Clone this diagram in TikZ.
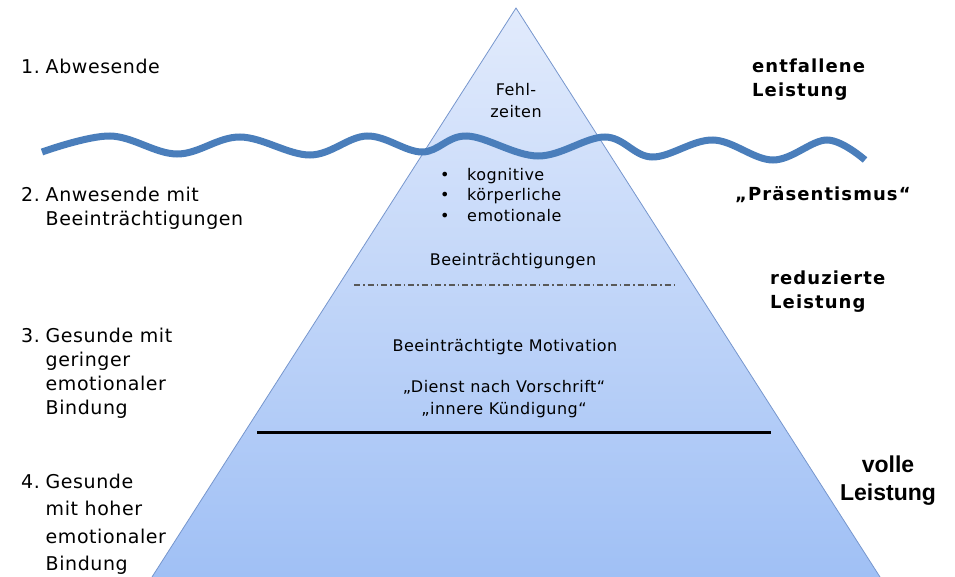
\documentclass[tikz,border=0pt]{standalone}
\usepackage{fontspec}
\setmainfont{DejaVu Sans}[LetterSpace=3,BoldFeatures={LetterSpace=6}]
\newfontfamily\narrowfont{Liberation Sans}
\usetikzlibrary{positioning}

\definecolor{wavecol}{RGB}{74,126,187}
\definecolor{edgecol}{RGB}{118,150,205}
\definecolor{toptint}{RGB}{226,235,252}
\definecolor{bottint}{RGB}{160,192,245}

% number column of the levels
\newcommand{\nr}[1]{\makebox[24.5pt][l]{#1}}

\begin{document}
\begin{tikzpicture}[x=1pt,y=-1pt,inner sep=0pt,
                    level/.style={anchor=west,
                      font=\fontsize{19}{24}\selectfont},
                    result/.style={anchor=west,align=left,
                      font=\fontsize{18}{24}\selectfont\bfseries},
                    inside/.style={align=center,
                      font=\fontsize{16}{22}\selectfont}]

          \useasboundingbox (0,0) rectangle (955,577);

          % iceberg
          \coordinate (apex) at (516,8);
          \coordinate (baseL) at (152,577);
          \coordinate (baseR) at (880,577);
          \shade[top color=toptint,bottom color=bottint]
                (apex) -- (baseL) -- (baseR) -- cycle;
          \draw[edgecol,line width=0.8pt] (baseL) -- (apex) -- (baseR);

          % water line
          \draw[wavecol,line width=7pt,line cap=butt]
                plot[smooth,tension=0.6] coordinates {(42,152) (110,136) (177,154)
                (240,137) (310,155) (367,136) (422,152) (467,136) (538,156)
                (605,137) (652,157) (713,140) (773,160) (827,140) (865,160)};

          % levels on the left
          \node[level] (abw) at (21,69)
                {\begin{tabular}{@{}l@{}l@{}}\nr{1.}&Abwesende\end{tabular}};
          \node[level] (anw) at (21,209)
                {\begin{tabular}{@{}l@{}l@{}}\nr{2.}&Anwesende mit\\
                  &Beeinträchtigungen\end{tabular}};
          \node[level] (ger) at (21,374)
                {\begin{tabular}{@{}l@{}l@{}}\nr{3.}&Gesunde mit\\&geringer\\
                  &emotionaler\\&Bindung\end{tabular}};
          \node[level,font=\fontsize{19}{27.5}\selectfont] (hoh) at (21,524)
                {\begin{tabular}{@{}l@{}l@{}}\nr{4.}&Gesunde\\&mit hoher\\
                  &emotionaler\\&Bindung\end{tabular}};

          % results on the right
          \node[result] (entf) at (752,80)  {entfallene\\Leistung};
          \node[result] (praes) at (735,195) {„Präsentismus“};
          \node[result] (redu) at (770,292) {reduzierte\\Leistung};
          \node[align=center,font=\fontsize{23}{28}\selectfont\narrowfont\bfseries]
                        (voll) at (888,481) {volle\\Leistung};

          % inside the iceberg
          \node[inside] (fehl) at (516,101) {Fehl-\\zeiten};
          \node[inside,anchor=west,align=left,font=\fontsize{16}{20.5}\selectfont]
                        (arten) at (440,195)
                        {\makebox[27pt][l]{•}kognitive\\
                         \makebox[27pt][l]{•}körperliche\\
                         \makebox[27pt][l]{•}emotionale};
          \node[inside] (beein) at (513,261) {Beeinträchtigungen};
          \node[inside] (motiv) at (505,347) {Beeinträchtigte Motivation};
          \node[inside] (dienst) at (504,399) {„Dienst nach Vorschrift“\\„innere Kündigung“};

          \coordinate (grenzeL) at (354,285);
          \coordinate (grenzeR) at (675,285);
          \draw[gray!70!black,line width=1.2pt,
                dash pattern=on 6pt off 3pt on 1.5pt off 3pt] (grenzeL) -- (grenzeR);

          \coordinate (linieL) at (257,432);
          \coordinate (linieR) at (771,432);
          \draw[black,line width=3pt] (linieL) -- (linieR);

        \end{tikzpicture}
\end{document}
